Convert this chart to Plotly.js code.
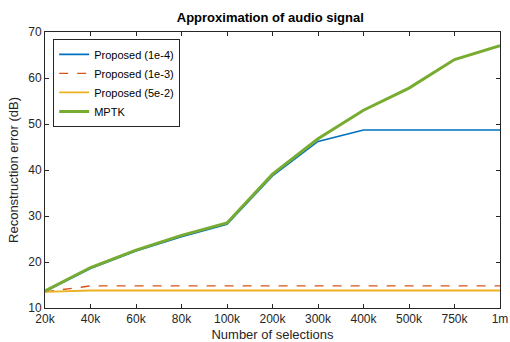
<!DOCTYPE html>
<html><head><meta charset="utf-8">
<script src="https://cdn.plot.ly/plotly-3.0.1.min.js"></script>
<style>html,body{margin:0;padding:0;background:#fff}</style>
</head><body><div id="chart" style="width:510px;height:342px"></div>
<script>
const categories = ['20k','40k','60k','80k','100k','200k','300k','400k','500k','750k','1m'];
const proposed1e4 = [13.6, 18.6, 22.4, 25.5, 28.2, 38.7, 46.2, 48.7, 48.7, 48.7, 48.7];
const proposed1e3 = [13.5, 14.8, 14.8, 14.8, 14.8, 14.8, 14.8, 14.8, 14.8, 14.8, 14.8];
const proposed5e2 = [13.5, 13.8, 13.8, 13.8, 13.8, 13.8, 13.8, 13.8, 13.8, 13.8, 13.8];
const mptk = [13.7, 18.8, 22.6, 25.8, 28.5, 39.1, 46.8, 53.0, 57.8, 64.0, 67.0];

const traces = [
  {x: categories, y: proposed1e4, name: 'Proposed (1e-4)', mode: 'lines', line: {color: '#0072BD', width: 1.6}},
  {x: categories, y: proposed1e3, name: 'Proposed (1e-3)', mode: 'lines', line: {color: '#D95319', width: 1.4, dash: 'dash'}},
  {x: categories, y: proposed5e2, name: 'Proposed (5e-2)', mode: 'lines', line: {color: '#EDB120', width: 1.8}},
  {x: categories, y: mptk, name: 'MPTK', mode: 'lines', line: {color: '#77AC30', width: 3}}
];

const axisCommon = {
  showgrid: false, zeroline: false, showline: true, mirror: 'ticks',
  linecolor: '#262626', linewidth: 1, ticks: 'inside', ticklen: 4, tickcolor: '#262626',
  tickfont: {family: 'Liberation Sans, Arial, sans-serif', size: 12, color: '#262626'}
};

const layout = {
  width: 510, height: 342,
  margin: {l: 45, r: 10, t: 32, b: 34},
  paper_bgcolor: '#fff', plot_bgcolor: '#fff',
  font: {family: 'Liberation Sans, Arial, sans-serif', color: '#262626'},
  title: {text: '<b>Approximation of audio signal</b>', font: {size: 13, color: '#000'}, x: 0.53, xanchor: 'center', y: 0.948, yanchor: 'middle'},
  xaxis: Object.assign({}, axisCommon, {
    type: 'category', range: [0, 10],
    title: {text: 'Number of selections', font: {size: 13}, standoff: 10}
  }),
  yaxis: Object.assign({}, axisCommon, {
    range: [10, 70], dtick: 10,
    title: {text: 'Reconstruction error (dB)', font: {size: 13}, standoff: 6}
  }),
  legend: {
    x: 0.018, y: 0.975, xanchor: 'left', yanchor: 'top',
    bgcolor: '#fff', bordercolor: '#262626', borderwidth: 1,
    font: {size: 11, color: '#000'}, tracegroupgap: 0, itemwidth: 30
  },
  showlegend: true
};

Plotly.newPlot('chart', traces, layout, {displayModeBar: false, staticPlot: true});
</script></body></html>
